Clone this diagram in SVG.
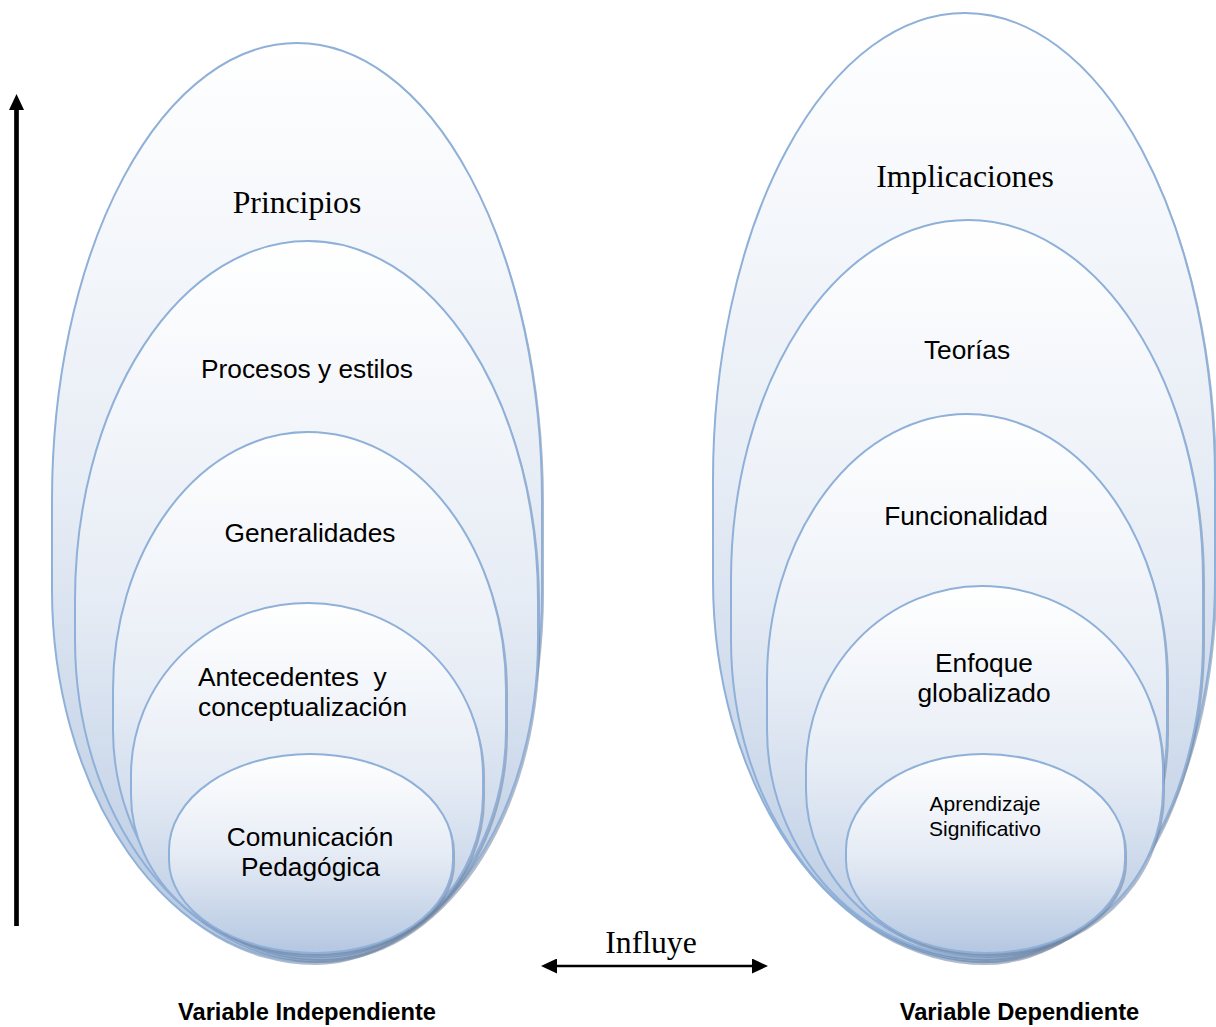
<svg xmlns="http://www.w3.org/2000/svg" width="1216" height="1027" viewBox="0 0 1216 1027">
<defs>
<linearGradient id="fillGrad" x1="0" y1="0" x2="0" y2="1">
<stop offset="0" stop-color="#ffffff"/>
<stop offset="0.5" stop-color="#e6ecf5"/>
<stop offset="1" stop-color="#b4c7e1"/>
</linearGradient>
<marker id="head" markerUnits="userSpaceOnUse" markerWidth="16" markerHeight="15" refX="0" refY="7.5" orient="auto-start-reverse">
<path d="M0,0 L16,7.5 L0,15 Z" fill="#000"/>
</marker>
<style>
.shape{fill:url(#fillGrad);stroke:#8fb0d8;stroke-width:2}
.shadow{fill:#6f819c;opacity:0.55}
.serif{font-family:"Liberation Serif","Times New Roman",serif;font-size:31.7px;fill:#000}
.sans{font-family:"Liberation Sans",Arial,sans-serif;font-size:26.3px;fill:#000}
.small{font-family:"Liberation Sans",Arial,sans-serif;font-size:21px;fill:#000}
.label{font-family:"Liberation Sans",Arial,sans-serif;font-size:23.7px;font-weight:bold;fill:#000}
.mid{text-anchor:middle}
.arrow{stroke:#000;fill:none}
</style>
</defs>
<rect width="1216" height="1027" fill="#ffffff"/>

<g id="left-stack">
<g id="principios">
<path class="shadow" transform="translate(2,3)" d="M52,500 A245,457 0 0 1 297,43 A245,457 0 0 1 542,500 L542,590 A229,372 0 0 1 313,962 A261,372 0 0 1 52,590 Z"/>
<path class="shape" d="M52,500 A245,457 0 0 1 297,43 A245,457 0 0 1 542,500 L542,590 A229,372 0 0 1 313,962 A261,372 0 0 1 52,590 Z"/>
<text class="serif mid" x="297" y="213">Principios</text>
</g>
<g id="procesos">
<path class="shadow" transform="translate(2,3)" d="M75,600 A233,359 0 0 1 308,241 A230,359 0 0 1 538,600 L538,640 A220,320 0 0 1 318,960 A243,320 0 0 1 75,640 Z"/>
<path class="shape" d="M75,600 A233,359 0 0 1 308,241 A230,359 0 0 1 538,600 L538,640 A220,320 0 0 1 318,960 A243,320 0 0 1 75,640 Z"/>
<text class="sans mid" x="307" y="378">Procesos y estilos</text>
</g>
<g id="generalidades">
<path class="shadow" transform="translate(2,3)" d="M113,690 A195,258 0 0 1 308,432 A198,258 0 0 1 506,690 L506,730 A186,228 0 0 1 320,958 A207,228 0 0 1 113,730 Z"/>
<path class="shape" d="M113,690 A195,258 0 0 1 308,432 A198,258 0 0 1 506,690 L506,730 A186,228 0 0 1 320,958 A207,228 0 0 1 113,730 Z"/>
<text class="sans mid" x="310" y="542">Generalidades</text>
</g>
<g id="antecedentes">
<path class="shadow" transform="translate(2,3)" d="M131,775 A177,172 0 0 1 308,603 A175,172 0 0 1 483,775 L483,795 A165,160 0 0 1 318,955 A187,160 0 0 1 131,795 Z"/>
<path class="shape" d="M131,775 A177,172 0 0 1 308,603 A175,172 0 0 1 483,775 L483,795 A165,160 0 0 1 318,955 A187,160 0 0 1 131,795 Z"/>
<text class="sans" x="198" y="686" style="white-space:pre">Antecedentes  y</text>
<text class="sans" x="198" y="716">conceptualización</text>
</g>
<g id="comunicacion">
<path class="shadow" transform="translate(2,3)" d="M169,850 A141,96 0 0 1 310,754 A143,96 0 0 1 453,850 L453,860 A137,93 0 0 1 316,953 A147,93 0 0 1 169,860 Z"/>
<path class="shape" d="M169,850 A141,96 0 0 1 310,754 A143,96 0 0 1 453,850 L453,860 A137,93 0 0 1 316,953 A147,93 0 0 1 169,860 Z"/>
<text class="sans mid" x="310" y="846">Comunicación</text>
<text class="sans mid" x="310.5" y="876">Pedagógica</text>
</g>
</g>

<g id="right-stack">
<g id="implicaciones">
<path class="shadow" transform="translate(2,3)" d="M713,480 A252,467 0 0 1 965,13 A250,467 0 0 1 1215,480 L1215,580 A232,382 0 0 1 983,962 A270,382 0 0 1 713,580 Z"/>
<path class="shape" d="M713,480 A252,467 0 0 1 965,13 A250,467 0 0 1 1215,480 L1215,580 A232,382 0 0 1 983,962 A270,382 0 0 1 713,580 Z"/>
<text class="serif mid" x="965" y="187">Implicaciones</text>
</g>
<g id="teorias">
<path class="shadow" transform="translate(2,3)" d="M731,580 A237,360 0 0 1 968,220 A235,360 0 0 1 1203,580 L1203,640 A218,320 0 0 1 985,960 A254,320 0 0 1 731,640 Z"/>
<path class="shape" d="M731,580 A237,360 0 0 1 968,220 A235,360 0 0 1 1203,580 L1203,640 A218,320 0 0 1 985,960 A254,320 0 0 1 731,640 Z"/>
<text class="sans mid" x="967" y="359">Teorías</text>
</g>
<g id="funcionalidad">
<path class="shadow" transform="translate(2,3)" d="M767,680 A200,266 0 0 1 967,414 A200,266 0 0 1 1167,680 L1167,730 A182,228 0 0 1 985,958 A218,228 0 0 1 767,730 Z"/>
<path class="shape" d="M767,680 A200,266 0 0 1 967,414 A200,266 0 0 1 1167,680 L1167,730 A182,228 0 0 1 985,958 A218,228 0 0 1 767,730 Z"/>
<text class="sans mid" x="966" y="525">Funcionalidad</text>
</g>
<g id="enfoque">
<path class="shadow" transform="translate(2,3)" d="M806,770 A176,184 0 0 1 982,586 A181,184 0 0 1 1163,770 L1163,790 A177,165 0 0 1 986,955 A180,165 0 0 1 806,790 Z"/>
<path class="shape" d="M806,770 A176,184 0 0 1 982,586 A181,184 0 0 1 1163,770 L1163,790 A177,165 0 0 1 986,955 A180,165 0 0 1 806,790 Z"/>
<text class="sans mid" x="984" y="672">Enfoque</text>
<text class="sans mid" x="984" y="702">globalizado</text>
</g>
<g id="aprendizaje">
<path class="shadow" transform="translate(2,3)" d="M846,850 A137,96 0 0 1 983,754 A142,96 0 0 1 1125,850 L1125,860 A139,93 0 0 1 986,953 A140,93 0 0 1 846,860 Z"/>
<path class="shape" d="M846,850 A137,96 0 0 1 983,754 A142,96 0 0 1 1125,850 L1125,860 A139,93 0 0 1 986,953 A140,93 0 0 1 846,860 Z"/>
<text class="small mid" x="985" y="811">Aprendizaje</text>
<text class="small mid" x="985" y="836">Significativo</text>
</g>
</g>

<g id="connectors">
<line class="arrow" x1="16.5" y1="926" x2="16.5" y2="110" stroke-width="4.7" marker-end="url(#head)"/>
<line class="arrow" x1="557" y1="966" x2="752" y2="966" stroke-width="2.7" marker-start="url(#head)" marker-end="url(#head)"/>
</g>

<g id="labels">
<text class="serif mid" x="651" y="953">Influye</text>
<text class="label mid" x="307" y="1020">Variable Independiente</text>
<text class="label mid" x="1019.5" y="1020">Variable Dependiente</text>
</g>
</svg>
